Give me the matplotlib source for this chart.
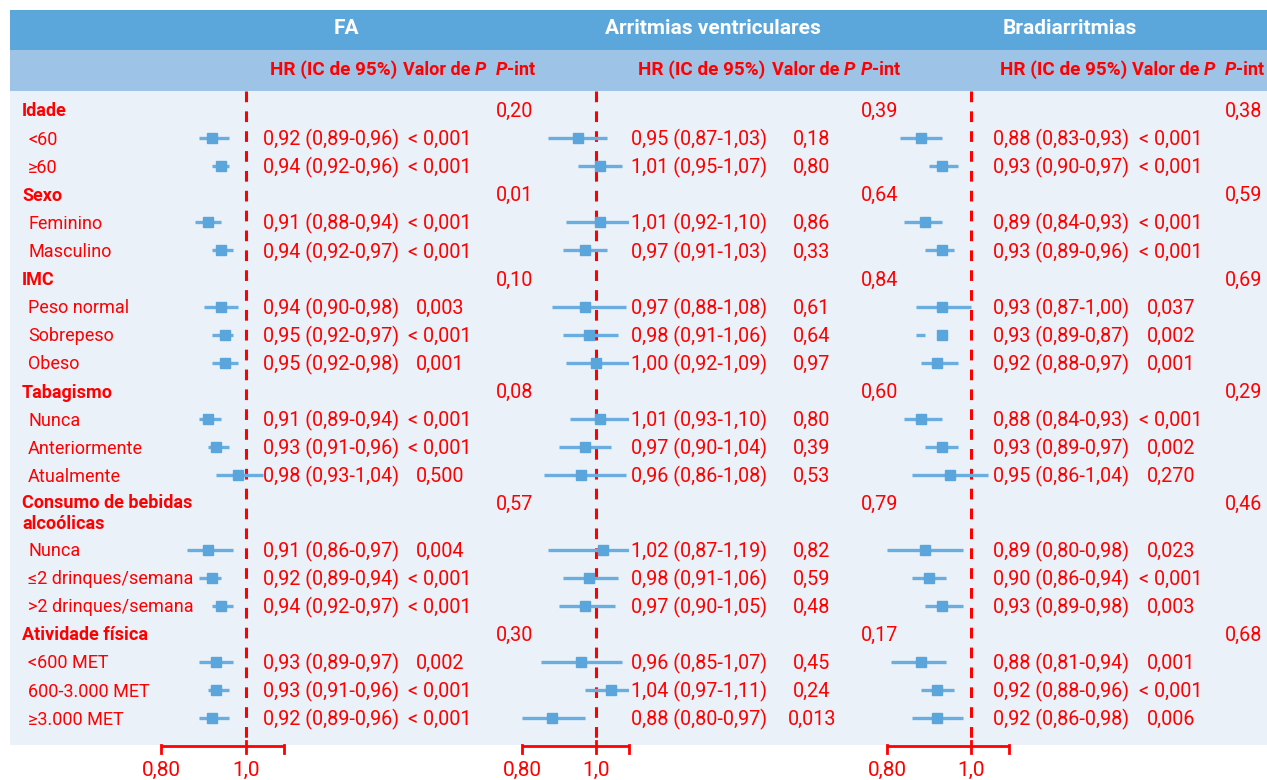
import matplotlib
matplotlib.use('Agg')
import matplotlib.pyplot as plt
from matplotlib.patches import Rectangle

plt.rcParams['font.family'] = ['Roboto', 'DejaVu Sans']

RED = '#FF0000'
BLUE = '#5AA5DB'
LINE_BLUE = '#6AADE0'

GROUPS = ['Idade', 'Sexo', 'IMC', 'Tabagismo',
          'Consumo de bebidas\nalcoólicas', 'Atividade física']
SUBGROUPS = [
    ['<60', '≥60'],
    ['Feminino', 'Masculino'],
    ['Peso normal', 'Sobrepeso', 'Obeso'],
    ['Nunca', 'Anteriormente', 'Atualmente'],
    ['Nunca', '≤2 drinques/semana', '>2 drinques/semana'],
    ['<600 MET', '600-3.000 MET', '≥3.000 MET'],
]

OUTCOMES = ['FA', 'Arritmias ventriculares', 'Bradiarritmias']

fa_hr = [0.92, 0.94, 0.91, 0.94, 0.94, 0.95, 0.95, 0.91, 0.93, 0.98,
         0.91, 0.92, 0.94, 0.93, 0.93, 0.92]
fa_lo = [0.89, 0.92, 0.88, 0.92, 0.90, 0.92, 0.92, 0.89, 0.91, 0.93,
         0.86, 0.89, 0.92, 0.89, 0.91, 0.89]
fa_hi = [0.96, 0.96, 0.94, 0.97, 0.98, 0.97, 0.98, 0.94, 0.96, 1.04,
         0.97, 0.94, 0.97, 0.97, 0.96, 0.96]
fa_p = ['< 0,001', '< 0,001', '< 0,001', '< 0,001', '0,003', '< 0,001',
        '0,001', '< 0,001', '< 0,001', '0,500', '0,004', '< 0,001',
        '< 0,001', '0,002', '< 0,001', '< 0,001']
fa_pint = ['0,20', '0,01', '0,10', '0,08', '0,57', '0,30']

va_hr = [0.95, 1.01, 1.01, 0.97, 0.97, 0.98, 1.00, 1.01, 0.97, 0.96,
         1.02, 0.98, 0.97, 0.96, 1.04, 0.88]
va_lo = [0.87, 0.95, 0.92, 0.91, 0.88, 0.91, 0.92, 0.93, 0.90, 0.86,
         0.87, 0.91, 0.90, 0.85, 0.97, 0.80]
va_hi = [1.03, 1.07, 1.10, 1.03, 1.08, 1.06, 1.09, 1.10, 1.04, 1.08,
         1.19, 1.06, 1.05, 1.07, 1.11, 0.97]
va_p = ['0,18', '0,80', '0,86', '0,33', '0,61', '0,64', '0,97', '0,80',
        '0,39', '0,53', '0,82', '0,59', '0,48', '0,45', '0,24', '0,013']
va_pint = ['0,39', '0,64', '0,84', '0,60', '0,79', '0,17']

br_hr = [0.88, 0.93, 0.89, 0.93, 0.93, 0.93, 0.92, 0.88, 0.93, 0.95,
         0.89, 0.90, 0.93, 0.88, 0.92, 0.92]
br_lo = [0.83, 0.90, 0.84, 0.89, 0.87, 0.89, 0.88, 0.84, 0.89, 0.86,
         0.80, 0.86, 0.89, 0.81, 0.88, 0.86]
br_hi = [0.93, 0.97, 0.93, 0.96, 1.00, 0.87, 0.97, 0.93, 0.97, 1.04,
         0.98, 0.94, 0.98, 0.94, 0.96, 0.98]
br_p = ['< 0,001', '< 0,001', '< 0,001', '< 0,001', '0,037', '0,002',
        '0,001', '< 0,001', '0,002', '0,270', '0,023', '< 0,001',
        '0,003', '0,001', '< 0,001', '0,006']
br_pint = ['0,38', '0,59', '0,69', '0,29', '0,46', '0,68']

AXIS_TICKS = [0.80, 1.0]
AXIS_END = 1.09

# panel layout in pixels: x of HR=1, px per HR unit, text columns
PANELS = [
    dict(data=(fa_hr, fa_lo, fa_hi, fa_p, fa_pint), x1=246, scale=425,
         title_x=346, hr_x=331, p_x=440, pint_x=533, vp_x=403, pi_x=496),
    dict(data=(va_hr, va_lo, va_hi, va_p, va_pint), x1=596, scale=370,
         title_x=713, hr_x=699, p_x=812, pint_x=898, vp_x=772, pi_x=861),
    dict(data=(br_hr, br_lo, br_hi, br_p, br_pint), x1=971, scale=420,
         title_x=1070, hr_x=1061, p_x=1171, pint_x=1262, vp_x=1132, pi_x=1225),
]

W, H = 1267, 780
fig = plt.figure(figsize=(W / 100, H / 100), dpi=100)
bg = fig.add_axes([0, 0, 1, 1])
bg.set_xlim(0, W)
bg.set_ylim(H, 0)
bg.axis('off')

bg.add_patch(Rectangle((10, 10), W - 10, 40, color='#5BA6DA', lw=0))
bg.add_patch(Rectangle((10, 50), W - 10, 41, color='#9DC3E6', lw=0))
bg.add_patch(Rectangle((10, 91), W - 10, 654, color='#EAF1F9', lw=0))

# row positions
group_y, sub_y = [], []
y = 110.0
for g, subs in zip(GROUPS, SUBGROUPS):
    group_y.append(y)
    y += 28.1 + (18 if '\n' in g else 0)
    rows = []
    for _ in subs:
        rows.append(y)
        y += 28.1
    sub_y.append(rows)
row_y = [v for rows in sub_y for v in rows]

fs = 13      # labels and headers
fn = 14.2    # numeric columns
dy = 1.5     # text sits a touch below the marker centre

for g, gy, subs, rows in zip(GROUPS, group_y, SUBGROUPS, sub_y):
    if '\n' in g:
        bg.text(22, gy - 9, g, color=RED, fontsize=fs, fontweight='bold',
                va='top', ha='left', linespacing=1.2)
    else:
        bg.text(22, gy + dy, g, color=RED, fontsize=fs, fontweight='bold',
                va='center', ha='left')
    for s, sy in zip(subs, rows):
        bg.text(28, sy + dy, s, color=RED, fontsize=fs, va='center', ha='left')

for name, pn in zip(OUTCOMES, PANELS):
    hr, lo, hi, pv, pint = pn['data']
    bg.text(pn['title_x'], 29, name, color='white', fontsize=15,
            fontweight='bold', ha='center', va='center')
    bg.text(pn['hr_x'] + 3, 70, 'HR (IC de 95%)', color=RED, fontsize=13.6,
            fontweight='bold', ha='center', va='center')
    t = bg.text(pn['vp_x'], 70, 'Valor de ', color=RED, fontsize=fs,
                fontweight='bold', ha='left', va='center')
    bg.annotate('P', xy=(1, 0), xycoords=t, color=RED, fontsize=fs,
                fontweight='bold', fontstyle='italic', ha='left', va='bottom')
    t = bg.text(pn['pi_x'], 70, 'P', color=RED, fontsize=fs,
                fontweight='bold', fontstyle='italic', ha='left', va='center')
    bg.annotate('-int', xy=(1, 0), xycoords=t, color=RED, fontsize=fs,
                fontweight='bold', ha='left', va='bottom')

    for gy, v in zip(group_y, pint):
        bg.text(pn['pint_x'], gy + dy, v, color=RED, fontsize=fn,
                ha='right', va='center')
    for ry, e, l, h, p in zip(row_y, hr, lo, hi, pv):
        lbl = f'{e:.2f} ({l:.2f}-{h:.2f})'.replace('.', ',')
        bg.text(pn['hr_x'], ry + dy, lbl, color=RED, fontsize=fn,
                ha='center', va='center')
        bg.text(pn['p_x'], ry + dy, p, color=RED, fontsize=fn,
                ha='center', va='center')

    # forest axes: x in HR units, y in the same pixel rows as the table
    x0 = 0.70
    left_px = pn['x1'] - (1 - x0) * pn['scale']
    width_px = (AXIS_END - x0) * pn['scale']
    ax = fig.add_axes([left_px / W, 0, width_px / W, 1])
    ax.set_xlim(x0, AXIS_END)
    ax.set_ylim(H, 0)
    ax.axis('off')
    ax.patch.set_visible(False)

    ax.hlines(row_y, lo, hi, color=LINE_BLUE, lw=2.4, zorder=2)
    ax.plot(hr, row_y, 's', color=BLUE, ms=7.2, mec=BLUE, zorder=3)
    ax.vlines(1.0, 91, 745, color=RED, lw=2.2, linestyles=(0, (3.5, 3)),
              zorder=1, clip_on=False)

    ax.plot([AXIS_TICKS[0], AXIS_END], [746, 746], color=RED, lw=2,
            clip_on=False, solid_capstyle='butt')
    ax.plot([AXIS_TICKS[0]] * 2, [745, 753], color=RED, lw=2, clip_on=False)
    ax.plot([AXIS_END] * 2, [745, 753], color=RED, lw=2, clip_on=False)
    ax.plot([AXIS_TICKS[1]] * 2, [741, 753], color=RED, lw=2, clip_on=False)
    for tk in AXIS_TICKS:
        ax.text(tk, 770, f'{tk:.2f}'.replace('.', ',') if tk < 1 else '1,0',
                color=RED, fontsize=15, ha='center', va='center',
                clip_on=False)

fig.savefig('out.png', dpi=100, facecolor='white')
